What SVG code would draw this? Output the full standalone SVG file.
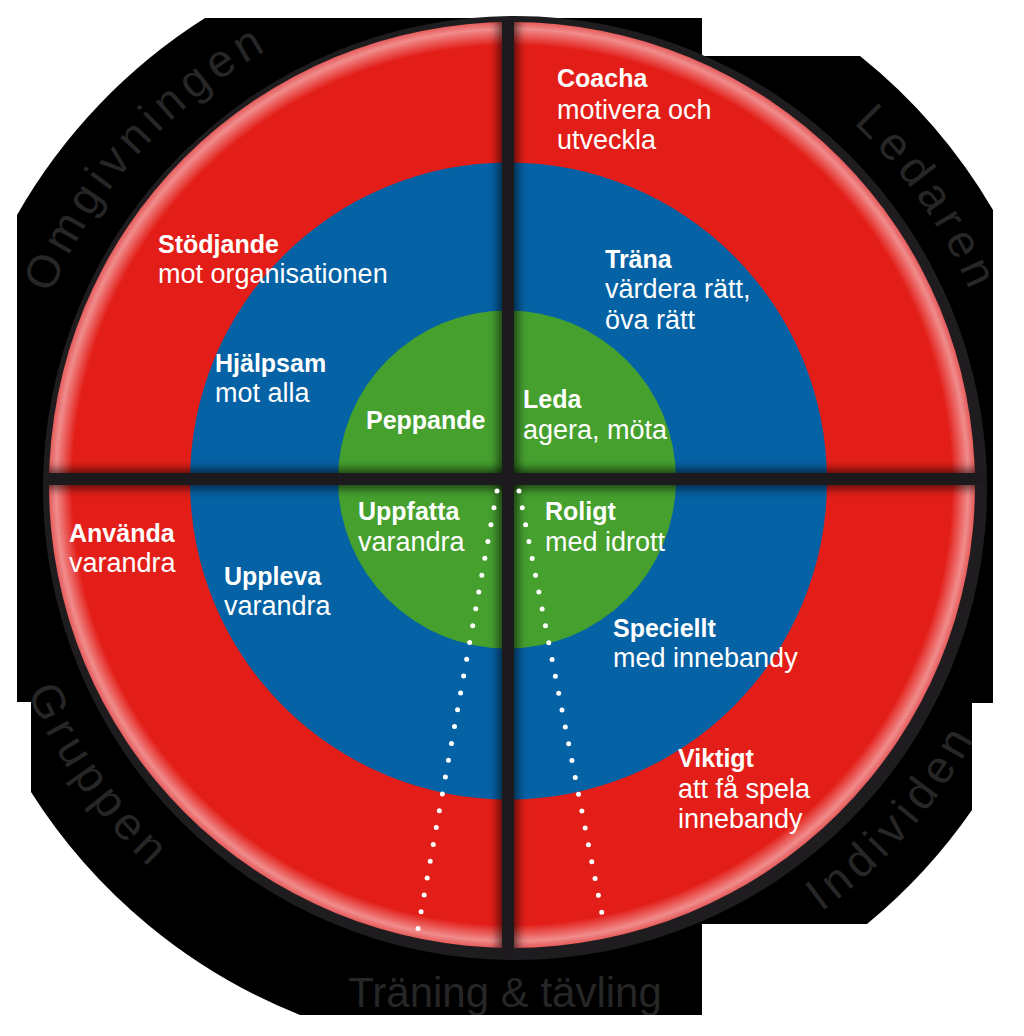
<svg xmlns="http://www.w3.org/2000/svg" width="1024" height="1036" viewBox="0 0 1024 1036">
  <style>
    .b { font-family: "Liberation Sans", Arial, sans-serif; font-weight: bold; font-size: 25px; fill: #ffffff; }
    .r { font-family: "Liberation Sans", Arial, sans-serif; font-size: 27px; fill: #ffffff; }
    .ring { font-family: "Liberation Sans", Arial, sans-serif; font-size: 46px; fill: #262626; letter-spacing: 6px; }
    .ringflat { font-family: "Liberation Sans", Arial, sans-serif; font-size: 42px; fill: #262626; }
    .xline { stroke: #1c1a1d; stroke-width: 12; fill: none; }
    .xshadow { stroke: #000000; stroke-width: 20; stroke-opacity: 0.6; fill: none; }
    .dots { stroke: #ffffff; stroke-width: 5; stroke-linecap: round; fill: none; }
  </style>
  <defs>
    <radialGradient id="redGlow" cx="512" cy="485" r="463" gradientUnits="userSpaceOnUse">
      <stop offset="0" stop-color="#e31e18"/>
      <stop offset="0.95" stop-color="#e31e18"/>
      <stop offset="0.985" stop-color="#f08c8c"/>
      <stop offset="1" stop-color="#e65a5a"/>
    </radialGradient>
    <filter id="soft" filterUnits="userSpaceOnUse" x="0" y="0" width="1024" height="1036">
      <feGaussianBlur stdDeviation="5"/>
    </filter>
    <clipPath id="blackClip">
      <path d="M 205 18 L 702 18 L 702 56 L 860 56 A 560 560 0 0 1 993 210 L 993 703 L 972 703 L 972 810 A 563 563 0 0 1 867 924 L 702 924 L 702 1015 L 300 1015 A 567 567 0 0 1 31 792 L 31 702 L 17 702 L 17 215 A 563 563 0 0 1 205 18 Z"/>
    </clipPath>
    <clipPath id="redClip">
      <circle cx="512" cy="485" r="463"/>
    </clipPath>
    <path id="arcTop1" d="M 13 485 A 499 499 0 1 1 1011 485 A 499 499 0 1 1 13 485"/>
    <path id="arcTop2" d="M 15 485 A 497 497 0 1 1 1009 485 A 497 497 0 1 1 15 485"/>
    <path id="arcBot" d="M -15 485 A 527 527 0 1 0 1039 485 A 527 527 0 1 0 -15 485"/>
  </defs>

  <g id="background">
    <path fill="#000000" d="M 205 18 L 702 18 L 702 56 L 860 56 A 560 560 0 0 1 993 210 L 993 703 L 972 703 L 972 810 A 563 563 0 0 1 867 924 L 702 924 L 702 1015 L 300 1015 A 567 567 0 0 1 31 792 L 31 702 L 17 702 L 17 215 A 563 563 0 0 1 205 18 Z"/>
    <g clip-path="url(#blackClip)">
      <text class="ring"><textPath href="#arcTop1" startOffset="364" text-anchor="middle">Omgivningen</textPath></text>
      <text class="ring"><textPath href="#arcTop2" startOffset="1262" text-anchor="middle">Ledaren</textPath></text>
      <text class="ring"><textPath href="#arcBot" startOffset="323" text-anchor="middle">Gruppen</textPath></text>
      <text class="ring"><textPath href="#arcBot" startOffset="1277" text-anchor="middle">Individen</textPath></text>
      <text class="ringflat" x="505" y="1007" text-anchor="middle">Träning &amp; tävling</text>
    </g>
  </g>

  <g id="rings">
    <circle cx="515" cy="488" r="472" fill="#1e1c1f"/>
    <circle cx="512" cy="485" r="463" fill="url(#redGlow)"/>
    <circle cx="508.5" cy="481" r="318.5" fill="#0562a5"/>
    <circle cx="507" cy="479.5" r="169" fill="#45a02e"/>
  </g>

  <g id="cross">
    <g clip-path="url(#redClip)" filter="url(#soft)">
      <path class="xshadow" d="M 508 10 L 508 960"/>
      <path class="xshadow" d="M 40 479 L 990 479"/>
    </g>
    <path class="xline" d="M 508 20 L 508 958"/>
    <path class="xline" d="M 46 479 L 986 479"/>
  </g>

  <g id="connectors">
    <path class="dots" d="M 497 491 L 418 929" stroke-dasharray="0 17.1"/>
    <path class="dots" d="M 519 491 L 605 929" stroke-dasharray="0 17.17"/>
  </g>

  <g id="node-coacha">
    <text class="b" x="557" y="87">Coacha</text>
    <text class="r" x="557" y="119">motivera och</text>
    <text class="r" x="557" y="149">utveckla</text>
  </g>
  <g id="node-stodjande">
    <text class="b" x="158" y="253">Stödjande</text>
    <text class="r" x="158" y="283">mot organisationen</text>
  </g>
  <g id="node-trana">
    <text class="b" x="605" y="268">Träna</text>
    <text class="r" x="605" y="298">värdera rätt,</text>
    <text class="r" x="605" y="329">öva rätt</text>
  </g>
  <g id="node-hjalpsam">
    <text class="b" x="215" y="372">Hjälpsam</text>
    <text class="r" x="215" y="402">mot alla</text>
  </g>
  <g id="node-peppande">
    <text class="b" x="366" y="429">Peppande</text>
  </g>
  <g id="node-leda">
    <text class="b" x="523" y="408">Leda</text>
    <text class="r" x="523" y="439">agera, möta</text>
  </g>
  <g id="node-uppfatta">
    <text class="b" x="358" y="520">Uppfatta</text>
    <text class="r" x="358" y="551">varandra</text>
  </g>
  <g id="node-roligt">
    <text class="b" x="545" y="520">Roligt</text>
    <text class="r" x="545" y="551">med idrott</text>
  </g>
  <g id="node-anvanda">
    <text class="b" x="69" y="542">Använda</text>
    <text class="r" x="69" y="572">varandra</text>
  </g>
  <g id="node-uppleva">
    <text class="b" x="224" y="585">Uppleva</text>
    <text class="r" x="224" y="615">varandra</text>
  </g>
  <g id="node-speciellt">
    <text class="b" x="613" y="637">Speciellt</text>
    <text class="r" x="613" y="667">med innebandy</text>
  </g>
  <g id="node-viktigt">
    <text class="b" x="678" y="767">Viktigt</text>
    <text class="r" x="678" y="798">att få spela</text>
    <text class="r" x="678" y="828">innebandy</text>
  </g>
</svg>
